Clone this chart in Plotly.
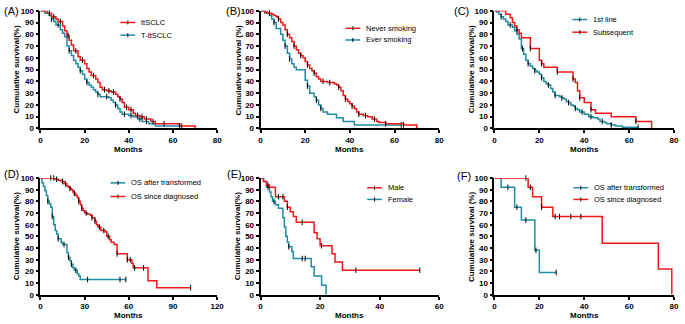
import plotly.graph_objects as go

W, H = 685, 324
RED = "#f01818"
TEAL = "#1e8ca4"
FONT = "Arial, Liberation Sans, sans-serif"

# ---------------- data (time in months, survival %) ----------------
# Panel A
A_red_t = [3, 5, 7, 8, 10, 11, 12, 13, 14, 15, 17, 18, 20, 21, 22, 23, 25, 26, 27, 28, 30, 32, 34, 35, 36, 37, 38, 40, 42, 43, 45, 47, 50, 52, 63, 70]
A_red_s = [98, 95, 93, 91, 87, 83, 79, 75, 71, 66, 61, 58, 55, 51, 48, 45, 42, 39, 35, 33, 32, 31, 29, 27, 25, 22, 18, 16, 13, 11, 10, 8, 6, 4, 2, 0]
A_red_c = [4, 6, 9, 12.5, 16, 19, 24, 29, 31, 33, 36, 39, 41, 44, 46, 48, 51, 56, 63]
A_teal_t = [2, 4, 5, 6, 7, 9, 10, 11, 12, 13, 14, 15, 16, 17, 18, 19, 20, 21, 22, 23, 24, 25, 26, 27, 31, 32, 33, 34, 35, 36, 37, 40, 42, 44, 46, 49, 52, 64]
A_teal_s = [98, 96, 93, 91, 88, 84, 81, 78, 70, 66, 62, 58, 55, 52, 49, 46, 42, 39, 37, 35, 33, 31, 29, 27, 26, 24, 22, 20, 17, 14, 12, 11, 10, 8, 6, 4, 2, 2]
A_teal_c = [5, 8, 13, 18, 21, 26, 30, 34, 38, 41, 45, 48, 64]
# Panel B
B_red_t = [2, 3, 5, 6, 7, 8, 9, 10, 11, 12, 13, 14, 15, 16, 17, 18, 19, 20, 21, 22, 23, 24, 25, 26, 27, 30, 33, 34, 35, 36, 37, 38, 39, 40, 41, 42, 43, 44, 46, 48, 50, 52, 53, 56, 64, 70]
B_red_s = [99, 98, 97, 96, 95, 93, 90, 88, 84, 80, 77, 74, 70, 67, 64, 62, 60, 57, 54, 51, 49, 47, 44, 42, 40, 39, 38, 37, 35, 32, 28, 25, 23, 21, 19, 17, 14, 12, 11, 10, 8, 6, 5, 4, 3, 0]
B_red_c = [4, 8, 12, 15, 18, 21, 24, 28, 31, 35, 38, 41, 44, 47, 51, 56, 64]
B_teal_t = [2, 4, 5, 6, 7, 9, 10, 11, 12, 13, 14, 15, 16, 20, 21, 22, 24, 25, 26, 27, 28, 30, 34, 37, 42, 63]
B_teal_s = [98, 96, 93, 90, 85, 80, 75, 70, 64, 59, 55, 52, 50, 41, 36, 30, 27, 24, 20, 17, 14, 12, 9, 6, 3, 3]
B_teal_c = [6, 11, 13, 21, 25, 27, 63]
# Panel C
C_teal_t = [1, 2, 3, 4, 5, 6, 8, 9, 10, 11, 12, 13, 14, 15, 16, 17, 18, 19, 20, 21, 22, 23, 24, 25, 26, 27, 29, 30, 31, 32, 33, 34, 35, 36, 37, 38, 40, 42, 44, 46, 47, 49, 50, 52, 54, 57, 64]
C_teal_s = [99, 97, 95, 93, 91, 88, 86, 83, 80, 76, 68, 63, 58, 55, 53, 51, 49, 48, 46, 43, 40, 38, 37, 34, 31, 28, 27, 26, 25, 23, 22, 20, 19, 17, 16, 14, 12, 10, 9, 8, 6, 5, 4, 3, 2, 1, 1]
C_teal_c = [3, 7, 12.5, 15, 18, 21, 24, 27, 30, 33, 36, 39, 43, 48, 52, 64]
C_red_t = [5, 7, 8, 9, 10, 11, 12, 16, 20, 21, 22, 28, 35, 36, 37, 38, 40, 43, 45, 52, 63, 70]
C_red_s = [97, 94, 90, 87, 84, 81, 77, 68, 58, 55, 52, 48, 42, 39, 32, 26, 22, 16, 13, 10, 6, 0]
C_red_c = [10, 16, 21, 28, 35, 38, 43, 63]
# Panel D
D_teal_t = [1, 2, 3, 4, 5, 6, 7, 8, 9, 10, 11, 12, 14, 15, 18, 19, 20, 21, 22, 23, 25, 26, 27, 58]
D_teal_s = [96, 93, 89, 85, 80, 78, 75, 67, 60, 55, 52, 48, 45, 43, 36, 32, 29, 26, 23, 21, 18, 16, 13, 13]
D_teal_c = [5, 8, 12, 16, 19, 21, 24, 32, 54, 58]
D_red_t = [10, 12, 14, 16, 18, 19, 20, 21, 22, 23, 24, 25, 26, 27, 28, 29, 30, 32, 34, 35, 37, 38, 39, 41, 44, 45, 47, 48, 50, 52, 59, 62, 63, 73, 79, 102]
D_red_s = [99, 98, 97, 95, 93, 92, 91, 90, 88, 87, 85, 83, 80, 77, 74, 72, 70, 69, 68, 66, 63, 60, 58, 55, 54, 50, 47, 45, 43, 35, 30, 27, 23, 12, 6, 6]
D_red_c = [7, 9, 11, 15, 17, 20, 23, 26, 28, 31, 35, 37, 40, 43, 46, 52, 59, 61, 64, 70, 102]
# Panel E
E_red_t = [1, 2, 3, 5, 8, 9, 10, 11, 12, 18, 19, 20, 24, 25, 27.5, 53.5]
E_red_s = [97, 94, 92, 84, 80, 75, 71, 67, 62, 53, 48, 42, 35, 28, 21, 21]
E_red_c = [2.5, 6, 7.5, 9, 14, 20.5, 32, 53.5]
E_teal_t = [1, 2, 3, 3.5, 4, 5, 6, 7.5, 8, 8.5, 9, 9.5, 10.5, 11, 17, 18, 20.5, 22]
E_teal_s = [97, 92, 88, 84, 80, 77, 74, 66, 58, 50, 45, 41, 37, 31, 24, 16, 8, 0]
E_teal_c = [2.5, 4.5, 9.5, 14, 15]
# Panel F
F_teal_t = [3, 9, 12, 18, 20, 27.5]
F_teal_s = [92, 75, 64, 38, 19, 19]
F_teal_c = [6, 10, 14, 18.5, 27.5]
F_red_t = [15, 17, 21, 26, 48, 73, 79]
F_red_s = [92, 84, 75, 67, 44, 22, 0]
F_red_c = [14, 16, 21, 27, 29, 34, 38.5]

x_ticks = {
    "A": [0, 20, 40, 60, 80], "B": [0, 20, 40, 60, 80], "C": [0, 20, 40, 60, 80],
    "D": [0, 30, 60, 90, 120], "E": [0, 20, 40, 60], "F": [0, 20, 40, 60, 80],
}
y_ticks = [0, 10, 20, 30, 40, 50, 60, 70, 80, 90, 100]
y_titles = {
    "A": "Cumulative survival(%)", "B": "Cumulative survival (%)", "C": "Cumulative survival(%)",
    "D": "Cumulative survival(%)", "E": "Cumulative survival(%)", "F": "Cumulative survival (%)",
}
legend_names = {
    "A": [("ttSCLC", RED), ("T-ttSCLC", TEAL)],
    "B": [("Never smoking", RED), ("Ever smoking", TEAL)],
    "C": [("1st line", TEAL), ("Subsequent", RED)],
    "D": [("OS after transformed", TEAL), ("OS since diagnosed", RED)],
    "E": [("Male", RED), ("Female", TEAL)],
    "F": [("OS after transformed", TEAL), ("OS since diagnosed", RED)],
}
series = {
    "A": [(A_teal_t, A_teal_s, A_teal_c, TEAL), (A_red_t, A_red_s, A_red_c, RED)],
    "B": [(B_teal_t, B_teal_s, B_teal_c, TEAL), (B_red_t, B_red_s, B_red_c, RED)],
    "C": [(C_teal_t, C_teal_s, C_teal_c, TEAL), (C_red_t, C_red_s, C_red_c, RED)],
    "D": [(D_teal_t, D_teal_s, D_teal_c, TEAL), (D_red_t, D_red_s, D_red_c, RED)],
    "E": [(E_teal_t, E_teal_s, E_teal_c, TEAL), (E_red_t, E_red_s, E_red_c, RED)],
    "F": [(F_teal_t, F_teal_s, F_teal_c, TEAL), (F_red_t, F_red_s, F_red_c, RED)],
}

# ---------------- layout geometry (pixels) ----------------
panels = {
    # x0, x1, y_top, y_bottom, ytitle_x, label_x, label_y, legend_x0, legend_y1, legend_dy
    "A": (39, 218, 7, 128, 15, 1, 7, 120, 19, 13),
    "B": (262, 443, 7, 128, 240, 226, 7, 348, 25, 12),
    "C": (499, 681, 7, 128, 476, 457, 7, 578, 16, 13),
    "D": (39, 218, 179, 299, 15, 1, 175, 110, 184, 14),
    "E": (262, 443, 179, 299, 239, 227, 175, 370, 189, 12),
    "F": (499, 681, 179, 299, 476, 460, 177, 579, 189, 12),
}


def px(x):
    return x / W


def py(y):
    return 1 - y / H


def step_value(t, s, c):
    v = 100
    for ti, si in zip(t, s):
        if ti <= c:
            v = si
    return v


fig = go.Figure()
layout = dict(
    width=W, height=H, margin=dict(l=0, r=0, t=0, b=0),
    paper_bgcolor="white", plot_bgcolor="white", showlegend=False,
    font=dict(family=FONT, color="black"),
)
shapes, annotations = [], []


def note(text, x, y, size, xanchor="center", angle=0):
    annotations.append(dict(text=text, x=px(x), y=py(y), xref="paper", yref="paper",
                            xanchor=xanchor, yanchor="middle", textangle=angle,
                            showarrow=False, borderpad=0,
                            font=dict(size=size, family=FONT, color="black")))


for i, key in enumerate(["A", "B", "C", "D", "E", "F"]):
    x0, x1, yt, yb, ytx, lx, ly, gx, gy, gdy = panels[key]
    xa = "xaxis" if i == 0 else f"xaxis{i+1}"
    ya = "yaxis" if i == 0 else f"yaxis{i+1}"
    xr = "x" if i == 0 else f"x{i+1}"
    yr = "y" if i == 0 else f"y{i+1}"
    xt = x_ticks[key]
    common = dict(showline=True, linewidth=1.8, linecolor="black", ticks="outside",
                  ticklen=3, tickwidth=1.5, tickcolor="black", showgrid=False, zeroline=False,
                  ticklabeloverflow="allow",
                  tickfont=dict(family=FONT, size=8, color="black", weight="bold"))
    layout[xa] = dict(domain=[px(x0), px(x1)], range=[0, xt[-1]], tickvals=xt,
                      anchor=yr, **common)
    layout[ya] = dict(domain=[py(yb), py(yt)], range=[0, 100], tickvals=y_ticks,
                      anchor=xr, **common)

    for t, s, c, col in series[key]:
        fig.add_trace(go.Scatter(x=[0] + t, y=[100] + s, mode="lines", line_shape="hv",
                                 line=dict(color=col, width=1.5), xaxis=xr, yaxis=yr,
                                 hoverinfo="skip"))
        fig.add_trace(go.Scatter(x=c, y=[step_value(t, s, ci) for ci in c], mode="markers",
                                 marker=dict(symbol="line-ns", size=4,
                                             line=dict(width=1, color="black")),
                                 cliponaxis=False, xaxis=xr, yaxis=yr, hoverinfo="skip"))

    note("<b>Months</b>", (x0 + x1) / 2, 150 if yt < 100 else 320, 8)
    note("<b>" + y_titles[key] + "</b>", ytx, (yt + yb) / 2, 8, angle=-90)
    note("(" + key + ")", lx, ly, 11, xanchor="left")
    for j, (name, col) in enumerate(legend_names[key]):
        yy = gy + j * gdy
        shapes.append(dict(type="line", xref="paper", yref="paper", x0=px(gx), x1=px(gx + 15),
                           y0=py(yy), y1=py(yy), line=dict(color=col, width=1.5)))
        shapes.append(dict(type="line", xref="paper", yref="paper", x0=px(gx + 7.5),
                           x1=px(gx + 7.5), y0=py(yy - 2), y1=py(yy + 2),
                           line=dict(color="black", width=1)))
        note(name, gx + 20, yy, 7.5, xanchor="left")

layout["shapes"] = shapes
layout["annotations"] = annotations
fig.update_layout(**layout)
fig.write_html(
    "out.html",
    config={"displayModeBar": False},
    post_script="document.body.style.margin='0px';document.body.style.overflow='hidden';",
)
